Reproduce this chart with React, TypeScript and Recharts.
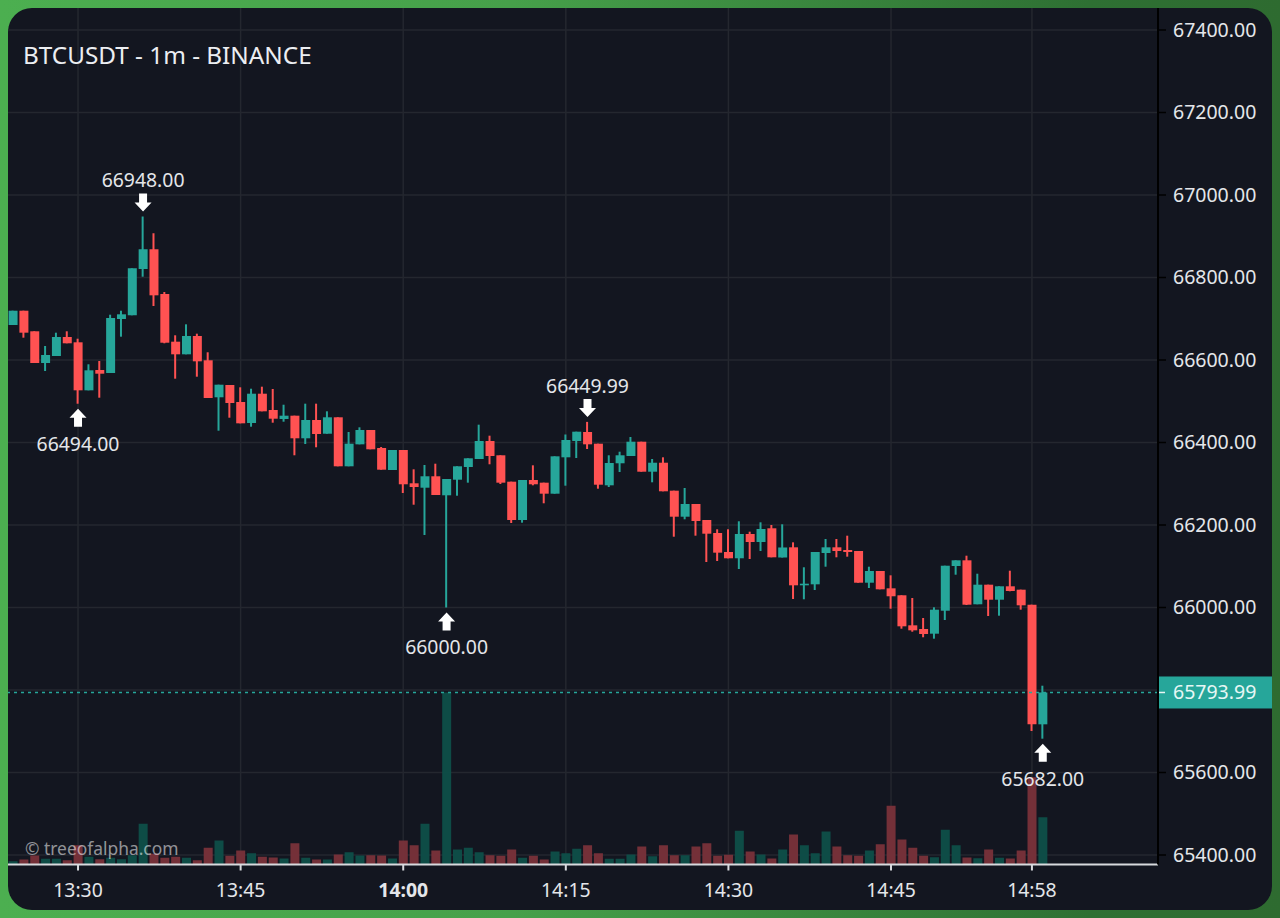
import { ComposedChart, Bar, XAxis, YAxis, CartesianGrid, Cell, ReferenceLine, ReferenceDot } from 'recharts';

const UP = '#26a69a';
const DOWN = '#ff5252';
const VOL_UP = '#0e4f49';
const VOL_DOWN = '#79323a';
const GRID = '#24272f';
const TEXT = '#e4e6ea';
const FONT = '"Noto Sans", sans-serif';

// 13:24 is candle 0, one candle per minute
const opens = [
  66684.8, 66719.5, 66669.6, 66592.7, 66609.7, 66655.8, 66642.9, 66526.5, 66575.8, 66568.5,
  66699.4, 66708.4, 66820.6, 66868.4, 66760.0, 66644.4, 66613.8, 66658.2, 66599.3, 66509.6,
  66539.4, 66498.2, 66447.3, 66518.3, 66478.8, 66457.0, 66465.0, 66410.2, 66454.5, 66421.3,
  66461.1, 66342.3, 66395.6, 66430.3, 66386.7, 66333.3, 66381.8, 66301.1, 66290.4, 66318.1,
  66272.0, 66309.8, 66340.6, 66360.0, 66403.6, 66369.0, 66305.0, 66212.1, 66309.1, 66302.6,
  66275.9, 66364.1, 66403.6, 66425.5, 66397.1, 66296.2, 66349.6, 66367.3, 66401.9, 66329.2,
  66351.0, 66283.2, 66220.1, 66250.9, 66212.1, 66180.6, 66134.5, 66119.3, 66178.2, 66158.8,
  66192.0, 66121.2, 66145.9, 66053.8, 66056.2, 66132.1, 66145.9, 66139.4, 66137.0, 66060.1,
  66088.5, 66046.5, 66029.6, 65956.8, 65947.9, 65936.5, 65992.2, 66100.6, 66114.4, 66007.8,
  66055.3, 66018.9, 66051.4, 66043.2, 66006.8, 65716.8,
];
const closes = [
  66719.5, 66666.2, 66592.7, 66612.1, 66655.8, 66640.5, 66526.5, 66575.0, 66566.8, 66701.8,
  66710.8, 66822.3, 66868.4, 66756.8, 66641.9, 66613.8, 66658.2, 66596.8, 66507.9, 66540.1,
  66495.8, 66446.5, 66518.3, 66475.6, 66457.7, 66465.0, 66410.2, 66454.5, 66420.6, 66461.1,
  66342.3, 66397.1, 66430.3, 66383.5, 66334.1, 66381.8, 66298.7, 66292.1, 66318.1, 66272.7,
  66311.5, 66342.3, 66361.7, 66403.6, 66367.3, 66302.6, 66212.1, 66309.1, 66298.7, 66275.9,
  66366.5, 66406.1, 66426.2, 66395.6, 66297.7, 66350.3, 66369.0, 66401.9, 66329.2, 66351.0,
  66281.7, 66220.1, 66250.9, 66209.7, 66178.9, 66132.9, 66119.3, 66178.2, 66158.8, 66190.3,
  66121.7, 66145.5, 66053.8, 66057.7, 66134.5, 66145.9, 66137.0, 66134.5, 66060.1, 66088.5,
  66044.1, 66027.2, 65954.4, 65944.7, 65935.8, 65994.7, 66101.3, 66114.4, 66006.8, 66055.3,
  66018.9, 66051.4, 66040.0, 66005.3, 65716.8, 65793.99,
];
const highs = [
  66719.5, 66719.5, 66669.6, 66633.9, 66666.2, 66669.6, 66651.6, 66589.6, 66597.6, 66709.8,
  66719.5, 66822.3, 66948.0, 66907.2, 66764.8, 66659.9, 66686.5, 66663.8, 66618.7, 66540.1,
  66539.4, 66533.8, 66530.4, 66535.3, 66529.7, 66491.6, 66465.0, 66494.1, 66494.1, 66475.6,
  66461.1, 66425.5, 66436.8, 66430.3, 66389.1, 66381.8, 66381.8, 66335.0, 66345.5, 66348.6,
  66311.5, 66342.3, 66361.7, 66443.2, 66416.5, 66369.0, 66305.0, 66309.1, 66344.7, 66302.6,
  66366.5, 66419.4, 66426.2, 66449.99, 66397.1, 66369.0, 66377.7, 66413.3, 66401.9, 66360.0,
  66364.1, 66283.2, 66289.7, 66250.9, 66212.1, 66189.6, 66189.6, 66209.0, 66183.8, 66206.5,
  66200.0, 66201.7, 66158.0, 66097.5, 66134.5, 66166.1, 66166.1, 66174.1, 66137.0, 66098.9,
  66088.5, 66078.0, 66029.6, 66023.0, 65974.5, 66000.5, 66101.3, 66114.4, 66125.6, 66081.9,
  66055.3, 66051.4, 66089.2, 66043.2, 66006.8, 65810.4,
];
const lows = [
  66684.8, 66654.1, 66592.7, 66573.3, 66609.7, 66640.5, 66494.0, 66526.5, 66508.6, 66568.5,
  66656.5, 66708.4, 66801.9, 66730.9, 66640.5, 66554.7, 66613.8, 66559.5, 66507.9, 66428.6,
  66460.1, 66446.5, 66438.3, 66475.6, 66448.0, 66450.4, 66369.0, 66396.4, 66388.4, 66421.3,
  66342.3, 66342.3, 66395.6, 66383.5, 66334.1, 66333.3, 66277.6, 66249.2, 66175.8, 66272.7,
  66000.0, 66271.0, 66302.6, 66360.0, 66347.2, 66299.4, 66204.8, 66205.6, 66296.2, 66252.6,
  66275.9, 66295.3, 66362.4, 66384.2, 66288.0, 66292.1, 66328.5, 66367.3, 66329.2, 66303.5,
  66281.7, 66171.6, 66213.8, 66174.1, 66110.3, 66112.7, 66119.3, 66093.3, 66117.6, 66137.0,
  66121.7, 66121.2, 66020.6, 66019.9, 66042.4, 66098.9, 66121.7, 66123.2, 66060.1, 66047.3,
  66044.1, 65997.1, 65948.6, 65941.3, 65927.8, 65924.4, 65969.7, 66079.5, 66006.0, 66007.8,
  65979.4, 65980.1, 66039.3, 65994.7, 65700.6, 65682.0,
];
// volume has no scale in the picture, relative heights only
const volumes = [
  10, 15, 27, 17, 17, 13, 58, 23, 16, 20, 16, 28, 122, 32, 20, 23, 20, 13, 50, 72,
  26, 42, 34, 23, 21, 18, 64, 20, 15, 15, 30, 37, 27, 28, 27, 18, 72, 58, 122, 42,
  516, 45, 50, 37, 28, 26, 45, 20, 26, 15, 39, 34, 47, 58, 34, 17, 17, 30, 54, 25,
  58, 28, 28, 54, 64, 26, 29, 101, 39, 30, 18, 45, 90, 58, 34, 99, 54, 28, 26, 42,
  61, 176, 75, 50, 26, 22, 104, 58, 21, 19, 45, 20, 18, 42, 262, 142,
];

const gridPrices = [65400, 65600, 65800, 66000, 66200, 66400, 66600, 66800, 67000, 67200, 67400];
// 65800.00 sits under the last price tag, so the axis leaves it out
const priceTicks = [65400, 65600, 66000, 66200, 66400, 66600, 66800, 67000, 67200, 67400];
const timeTicks = [6, 21, 36, 51, 66, 81, 94];
const timeLabels = ['13:30', '13:45', '14:00', '14:15', '14:30', '14:45', '14:58'];
const lastPrice = 65793.99;

const extremes = [
  { index: 6, price: 66494, label: '66494.00', above: false },
  { index: 12, price: 66948, label: '66948.00', above: true },
  { index: 40, price: 66000, label: '66000.00', above: false },
  { index: 53, price: 66449.99, label: '66449.99', above: true },
  { index: 95, price: 65682, label: '65682.00', above: false },
];

const data = opens.map((open, i) => ({
  i,
  body: [Math.min(open, closes[i]), Math.max(open, closes[i])],
  wick: [lows[i], highs[i]],
  volume: volumes[i],
  up: closes[i] >= open,
}));

const priceDomain = [65376.97, 67453.33];
const timeDomain = [-0.46, 105.63];
const volumeDomain = [0, 2569.5];

const TimeTick = ({ x, y, payload }: any) => {
  const n = timeTicks.indexOf(payload.value);
  return (
    <text x={x} y={y + 24} textAnchor="middle" fill={TEXT} fontSize={19.4} fontFamily={FONT}
      fontWeight={payload.value === 36 ? 700 : 400}>
      {timeLabels[n]}
    </text>
  );
};

const ArrowMark = ({ cx, cy, above, label }: any) => {
  const dir = above ? -1 : 1;
  const tip = cy + dir * 5;
  const neck = tip + dir * 9;
  const end = tip + dir * 18;
  return (
    <g>
      <path
        d={`M${cx} ${tip}L${cx + 8.5} ${neck}L${cx + 4} ${neck}L${cx + 4} ${end}L${cx - 4} ${end}L${cx - 4} ${neck}L${cx - 8.5} ${neck}Z`}
        fill="#ffffff"
      />
      <text x={cx} y={above ? cy - 29 : cy + 47} textAnchor="middle" fill={TEXT} fontSize={19.4} fontFamily={FONT}>
        {label}
      </text>
    </g>
  );
};

const LastPriceTag = ({ viewBox }: any) => {
  const left = viewBox.x + viewBox.width;
  return (
    <g>
      <rect x={left} y={viewBox.y - 16} width={114} height={32} fill={UP} />
      <line x1={left} x2={left + 7} y1={viewBox.y} y2={viewBox.y} stroke="#e8f5f3" strokeWidth={1.5} />
      <text x={left + 15} y={viewBox.y + 7} fill="#e6f7f5" fontSize={19.5} fontFamily={FONT}>
        {lastPrice.toFixed(2)}
      </text>
    </g>
  );
};

export default function App() {
  return (
    <div style={{ position: 'absolute', left: 0, top: 0, width: 1280, height: 918, background: 'linear-gradient(to right, #4caf50 0%, #46a04a 40%, #2e7033 85%, #2e6b30 100%)' }}>
      <div style={{ position: 'absolute', left: 8, top: 8, width: 1264, height: 902, background: '#131620', borderRadius: 24, overflow: 'hidden' }}>
        <ComposedChart width={1264} height={902} data={data} margin={{ top: 0, right: 0, bottom: 0, left: 0 }}>
          <CartesianGrid xAxisId="time" yAxisId="price" stroke={GRID} strokeWidth={1.5} verticalValues={timeTicks} horizontalValues={gridPrices} />
          <XAxis xAxisId="time" dataKey="i" type="number" domain={timeDomain} ticks={timeTicks} allowDataOverflow
            axisLine={{ stroke: '#d8dade', strokeWidth: 2 }} tickLine={{ stroke: '#d8dade', strokeWidth: 2 }} tickSize={6}
            tick={<TimeTick />} height={45.5} interval={0} />
          <XAxis xAxisId="wick" dataKey="i" type="number" domain={timeDomain} ticks={timeTicks} allowDataOverflow hide />
          <XAxis xAxisId="volume" dataKey="i" type="number" domain={timeDomain} ticks={timeTicks} allowDataOverflow hide />
          <YAxis yAxisId="price" orientation="right" domain={priceDomain} ticks={priceTicks} allowDataOverflow width={114}
            axisLine={{ stroke: '#000000', strokeWidth: 2 }} tickLine={{ stroke: '#000000', strokeWidth: 1.5 }} tickSize={8} tickMargin={7}
            tick={{ fill: TEXT, fontSize: 19.5, fontFamily: FONT }} tickFormatter={(v: number) => v.toFixed(2)} interval={0} />
          <YAxis yAxisId="vol" domain={volumeDomain} allowDataOverflow hide />

          <Bar xAxisId="volume" yAxisId="vol" dataKey="volume" barSize={9} isAnimationActive={false}>
            {data.map((d) => <Cell key={d.i} fill={d.up ? VOL_UP : VOL_DOWN} fillOpacity={0.95} />)}
          </Bar>
          <ReferenceLine xAxisId="time" yAxisId="price" y={lastPrice} stroke={UP} strokeWidth={1.5} strokeDasharray="3 4" label={<LastPriceTag />} />
          <Bar xAxisId="wick" yAxisId="price" dataKey="wick" barSize={2} isAnimationActive={false}>
            {data.map((d) => <Cell key={d.i} fill={d.up ? UP : DOWN} />)}
          </Bar>
          <Bar xAxisId="time" yAxisId="price" dataKey="body" barSize={9} isAnimationActive={false}>
            {data.map((d) => <Cell key={d.i} fill={d.up ? UP : DOWN} />)}
          </Bar>
          {extremes.map((m) => (
            <ReferenceDot key={m.index} xAxisId="time" yAxisId="price" x={m.index} y={m.price}
              shape={(p: any) => <ArrowMark {...p} above={m.above} label={m.label} />} />
          ))}
        </ComposedChart>
      </div>
      <div style={{ position: 'absolute', left: 23, top: 39, color: '#eceef2', fontSize: 24.3, lineHeight: '32px', fontFamily: FONT, whiteSpace: 'nowrap' }}>
        BTCUSDT - 1m - BINANCE
      </div>
      <div style={{ position: 'absolute', left: 25, top: 836, color: 'rgba(255,255,255,0.55)', fontSize: 17.4, lineHeight: '24px', fontFamily: FONT, whiteSpace: 'nowrap' }}>
        © treeofalpha.com
      </div>
    </div>
  );
}
